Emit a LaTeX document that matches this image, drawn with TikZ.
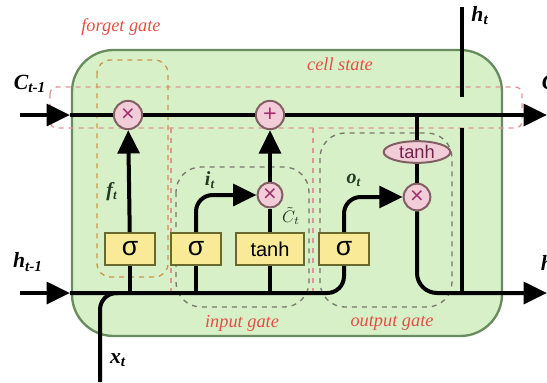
\documentclass[tikz,border=0pt]{standalone}
\usepackage{fontspec}
\setmainfont{Liberation Serif}
\setsansfont{Liberation Sans}
\usepackage{tikz}
\usetikzlibrary{arrows.meta, shapes.geometric, calc}

\definecolor{cellgreen}{RGB}{216,240,200}
\definecolor{celledge}{RGB}{105,140,95}
\definecolor{gateyellow}{RGB}{248,234,150}
\definecolor{gateedge}{RGB}{105,105,45}
\definecolor{oppink}{RGB}{242,205,215}
\definecolor{opedge}{RGB}{130,95,100}
\definecolor{opsign}{RGB}{160,50,110}
\definecolor{labelred}{RGB}{225,80,70}
\definecolor{dashpink}{RGB}{220,150,150}
\definecolor{dashorange}{RGB}{205,150,80}
\definecolor{dashgray}{RGB}{120,120,110}
\definecolor{varcol}{RGB}{35,60,35}

\begin{document}
\begin{tikzpicture}[x=0.6pt, y=-0.6pt,
    wire/.style={line width=2.4pt, black},
    arr/.style={wire, -{Triangle[length=14pt, width=13pt]}},
    gatebox/.style={draw=gateedge, fill=gateyellow, line width=1.2pt, minimum width=30pt, minimum height=19pt, inner sep=1pt, font=\sffamily\fontsize{16}{16}\selectfont},
    opcirc/.style={circle, draw=opedge, fill=oppink, line width=1.2pt, minimum size=17pt, inner sep=0pt, text=opsign, font=\sffamily\fontsize{14}{14}\selectfont},
    gatelabel/.style={text=labelred, font=\itshape\fontsize{11}{13}\selectfont},
    varlabel/.style={text=varcol, font=\bfseries\itshape\fontsize{12}{14}\selectfont},
    iolabel/.style={font=\bfseries\itshape\fontsize{13}{15}\selectfont}]
  \useasboundingbox (0,0) rectangle (547,382);

  % ----- Cell background -----
  \draw[fill=cellgreen, draw=celledge, line width=1.4pt, rounded corners=25] (72,50) rectangle (502,336);

  % ----- Dashed regions -----
  \draw[dashpink, dashed, line width=0.8pt, rounded corners=4] (50,87) rectangle (522,128);
  \draw[dashorange, dashed, line width=0.8pt, rounded corners=8] (97,60) rectangle (168,277);
  \draw[dashpink, dashed, line width=0.8pt] (171,128) -- (171,293);
  \draw[dashpink, dashed, line width=0.8pt] (313,128) -- (313,293);
  \draw[dashgray, dashed, line width=0.8pt, rounded corners=15] (176,167) rectangle (309,307);
  \draw[dashgray, dashed, line width=0.8pt, rounded corners=15] (320,133) rectangle (452,307);

  % ----- Region labels -----
  \node[gatelabel] (lforget) at (121,27) {forget gate};
  \node[gatelabel] (lcell) at (340,64) {cell state};
  \node[gatelabel] (linput) at (242,323) {input gate};
  \node[gatelabel] (loutput) at (392,323) {output gate};

  % ----- Operators -----
  \node[opcirc] (fmul) at (128,115) {×};
  \node[opcirc] (addc) at (270,115) {+};
  \node[opcirc, minimum size=15pt] (imul) at (270,195) {×};
  \node[opcirc, minimum size=16pt] (omul) at (417,197) {×};
  \node[ellipse, draw=opedge, fill=oppink, line width=1.2pt, minimum width=40pt, minimum height=13pt, inner sep=0.5pt, text=opsign!70!black, font=\sffamily\fontsize{11}{12}\selectfont] (tanhc) at (417,152) {tanh};

  % ----- Gates -----
  \node[gatebox] (fsig) at (130,249) {σ};
  \node[gatebox] (isig) at (196,249) {σ};
  \node[gatebox, minimum width=41pt, font=\sffamily\fontsize{12}{13}\selectfont] (ttanh) at (270,249) {tanh};
  \node[gatebox] (osig) at (344,249) {σ};

  % ----- End points -----
  \coordinate (cin) at (20,115);
  \coordinate (cleft) at (70,115);
  \coordinate (cout) at (547,115);
  \coordinate (hin) at (20,293);
  \coordinate (hleft) at (70,293);
  \coordinate (hout) at (547,293);
  \coordinate (xin) at (100,382);
  \coordinate (xjoin) at (118,293);
  \coordinate (hup) at (462,293);
  \coordinate (hgaplo) at (462,128);
  \coordinate (hgaphi) at (462,97);
  \coordinate (htop) at (462,7);

  % ----- Cell state line -----
  \draw[arr] (cin) -- (cleft);
  \draw[wire] (cleft) -- (fmul);
  \draw[wire] (fmul) -- (addc);
  \draw[arr] (addc) -- (cout);

  % ----- Hidden / input line -----
  \draw[arr] (hin) -- (hleft);
  \draw[wire, rounded corners=10] (hleft) -| (osig);
  \draw[wire, rounded corners=10] (xin) |- (xjoin);

  % ----- Forget gate -----
  \draw[wire] (hleft -| fsig) -- (fsig);
  \draw[arr] (fsig) -- (fmul);

  % ----- Input gate -----
  \draw[wire] (hleft -| isig) -- (isig);
  \draw[arr, rounded corners=10] (isig) |- (imul);
  \draw[wire] (hleft -| ttanh) -- (ttanh);
  \draw[wire] (ttanh) -- (imul);
  \draw[arr] (imul) -- (addc);

  % ----- Output gate -----
  \draw[arr, rounded corners=10] (osig) |- (omul);
  \draw[wire] (addc -| tanhc) -- (tanhc);
  \draw[wire] (tanhc) -- (omul);
  \draw[arr, rounded corners=12] (omul) |- (hout);
  \draw[wire] (hup) -- (hgaplo);
  \draw[wire] (hgaphi) -- (htop);

  % ----- Variable labels -----
  \node[varlabel] (lf) at (112,192) {f\textsubscript{t}};
  \node[varlabel] (li) at (210,180) {i\textsubscript{t}};
  \node[varlabel, font=\fontsize{10}{12}\selectfont, inner sep=1pt] (lct) at (291,216) {$\tilde{C}_t$};
  \node[varlabel] (lo) at (354,180) {o\textsubscript{t}};
  \node[iolabel] (lcin) at (30,84) {C\textsubscript{t-1}};
  \node[iolabel, anchor=west] (lcout) at (536,84) {C\textsubscript{t}};
  \node[iolabel] (lhin) at (28,262) {h\textsubscript{t-1}};
  \node[iolabel, anchor=west] (lhout) at (535,265) {h\textsubscript{t}};
  \node[iolabel] (lhtop) at (480,16) {h\textsubscript{t}};
  \node[iolabel] (lx) at (118,360) {x\textsubscript{t}};
\end{tikzpicture}
\end{document}
